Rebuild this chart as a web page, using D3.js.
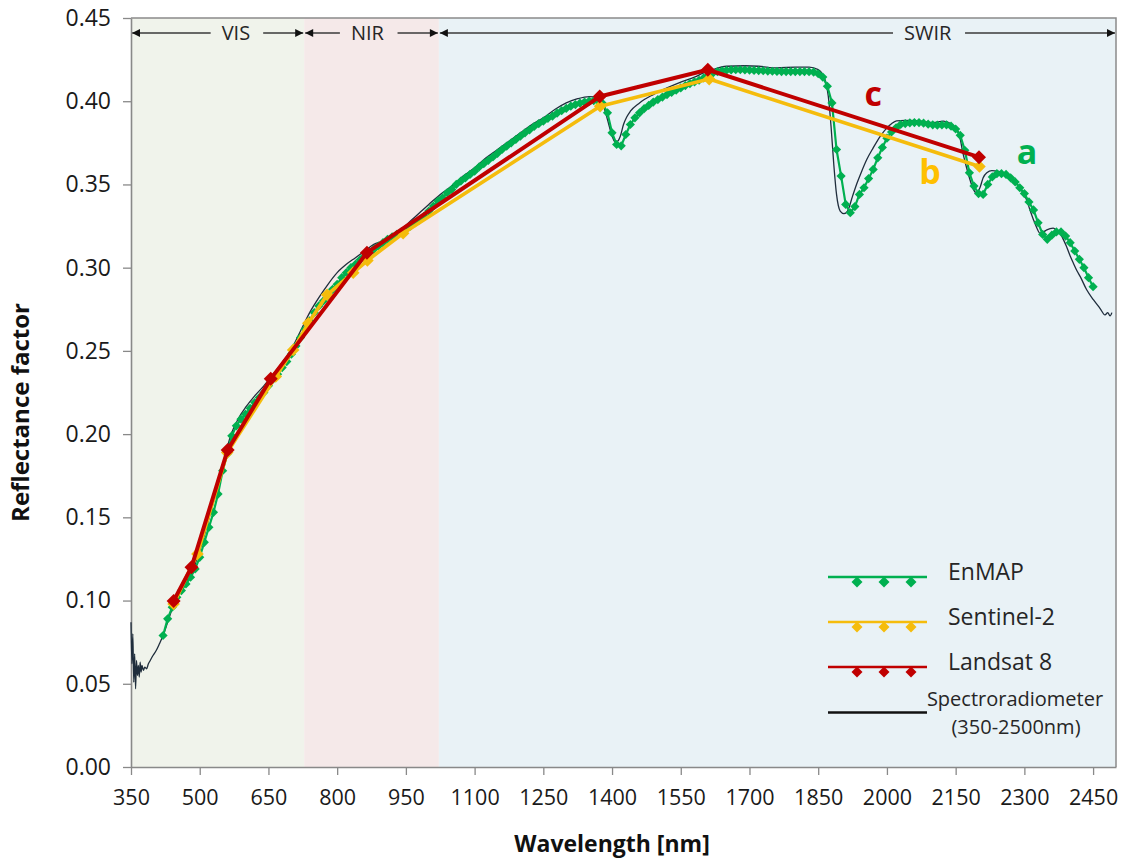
<!DOCTYPE html>
<html>
<head>
<meta charset="utf-8">
<script src="https://cdn.jsdelivr.net/npm/d3@7"></script>
<style>
  html, body { margin: 0; padding: 0; background: #ffffff; }
  svg { display: block; }
  text { font-family: "Open Sans", "Noto Sans", sans-serif; }
</style>
</head>
<body>
<svg id="chart" width="1121" height="859"></svg>
<script>
// ---------------- DATA ----------------
const xTicks = [350, 500, 650, 800, 950, 1100, 1250, 1400, 1550, 1700, 1850, 2000, 2150, 2300, 2450];
const yTicks = [0, 0.05, 0.10, 0.15, 0.20, 0.25, 0.30, 0.35, 0.40, 0.45];

const bandNames = ["VIS", "NIR", "SWIR"];
const bandStart = [350, 728, 1022];
const bandEnd   = [728, 1022, 2500];
const bandLabelAt = [579, 866, 2089];
const bandColors = ["#f0f3eb", "#f5e9e9", "#e9f2f6"];

// Spectroradiometer (350-2500 nm)
const spectroNm = [350,352,354,356,358,360,362,364,366,368,370,372,374,377,380,384,388,392,398,405,412,420,
  430,440,450,460,470,480,490,500,510,520,530,540,550,560,570,580,590,600,620,640,660,680,700,720,740,760,780,
  800,820,840,860,880,900,920,940,960,980,1000,1025,1050,1075,1100,1125,1150,1175,1200,1225,1250,1275,1300,
  1325,1350,1370,1380,1390,1398,1406,1412,1418,1425,1432,1440,1460,1490,1520,1550,1580,1600,1620,1650,1690,
  1720,1760,1800,1830,1850,1860,1866,1872,1878,1884,1890,1898,1906,1914,1925,1935,1945,1956,1970,1985,2000,
  2010,2021,2040,2065,2085,2101,2123,2140,2150,2158,2165,2172,2180,2188,2195,2203,2210,2218,2229,2242,2254,
  2268,2283,2295,2305,2313,2320,2327,2334,2342,2349,2363,2372,2378,2385,2392,2400,2407,2415,2422,2436,2451,
  2465,2476,2482,2487,2491];
const spectroVal = [0.087,0.062,0.080,0.051,0.068,0.047,0.064,0.055,0.061,0.054,0.063,0.057,0.061,0.058,0.060,
  0.059,0.062,0.064,0.067,0.070,0.074,0.079,
  0.087,0.095,0.102,0.107,0.111,0.116,0.122,0.130,0.139,0.149,0.159,0.168,0.180,0.192,0.201,0.207,0.212,0.216,
  0.223,0.229,0.236,0.243,0.251,0.262,0.273,0.282,0.290,
  0.297,0.302,0.306,0.310,0.314,0.316,0.319,0.323,0.328,0.333,0.338,0.344,0.349,0.355,0.360,0.366,0.371,0.376,
  0.381,0.386,0.390,0.395,0.399,
  0.4015,0.4028,0.402,0.398,0.389,0.381,0.3758,0.376,0.379,0.386,0.3905,0.394,0.399,0.404,0.408,0.4115,0.4145,
  0.417,0.419,0.421,0.4213,
  0.421,0.420,0.4205,0.4205,0.419,0.416,0.412,0.403,0.385,0.362,0.344,0.334,0.3325,0.334,0.343,0.351,0.358,
  0.365,0.372,0.3788,0.384,
  0.3865,0.3882,0.3885,0.3884,0.3875,0.3872,0.388,0.3865,0.384,0.380,0.370,0.362,0.354,0.3475,0.345,0.348,
  0.354,0.357,0.3583,0.358,0.357,
  0.355,0.3507,0.346,0.3407,0.334,0.3287,0.324,0.3207,0.3215,0.3227,0.3237,0.322,0.3207,0.317,0.3127,0.307,
  0.3027,0.298,0.2946,0.2867,0.2806,
  0.2756,0.2716,0.273,0.271,0.273];

// EnMAP
const enmapNm = [420,430,440,450,460,470,480,490,500,510,520,530,540,550,560,570,580,590,600,610,620,630,640,650,
  660,670,680,690,700,710,720,730,740,750,760,770,780,790,800,810,820,830,840,850,860,870,880,890,900,910,920,930,
  940,950,960,970,980,990,1000,1010,1020,1030,1040,1050,1060,1070,1080,1090,1100,1110,1120,1130,1140,1150,1160,
  1170,1180,1190,1200,1210,1220,1230,1240,1250,1260,1270,1280,1290,1300,1310,1320,1330,1340,1350,1360,1370,1380,
  1390,1400,1410,1420,1430,1440,1450,1460,1470,1480,1490,1500,1510,1520,1530,1540,1550,1560,1570,1580,1590,1600,
  1610,1620,1630,1640,1650,1660,1670,1680,1690,1700,1710,1720,1730,1740,1750,1760,1770,1780,1790,1800,1810,1820,
  1830,1840,1850,1860,1870,1880,1890,1900,1910,1920,1930,1940,1950,1960,1970,1980,1990,2000,2010,2020,2030,2040,
  2050,2060,2070,2080,2090,2100,2110,2120,2130,2140,2150,2160,2170,2180,2190,2200,2210,2220,2230,2240,2250,2260,
  2270,2280,2290,2300,2310,2320,2330,2340,2350,2360,2370,2380,2390,2400,2410,2420,2430,2440,2450];
const enmapVal = [0.079,0.089,0.096,0.102,0.106,0.110,0.114,0.119,0.126,0.135,0.144,0.153,0.164,0.178,0.188,0.199,
  0.205,0.209,0.212,0.2155,0.219,0.222,0.225,0.229,
  0.233,0.236,0.240,0.2436,0.248,0.253,0.258,0.263,0.268,0.273,0.277,0.280,0.283,0.287,0.290,0.294,0.297,0.300,
  0.302,0.3047,0.307,0.309,0.311,0.313,0.315,0.317,0.3185,0.320,
  0.3215,0.323,0.325,0.327,0.3287,0.331,0.334,0.337,0.340,0.342,0.345,0.347,0.350,0.352,0.354,0.356,0.358,0.3605,
  0.3625,0.3645,0.3665,0.3687,0.371,
  0.373,0.375,0.377,0.379,0.381,0.3828,0.3848,0.3865,0.388,0.3897,0.391,0.3928,0.3943,0.3957,0.397,0.398,0.3988,
  0.3995,0.400,0.4003,0.400,0.3985,
  0.393,0.381,0.374,0.3732,0.380,0.386,0.390,0.393,0.3955,0.3975,0.3995,0.401,0.4025,0.404,0.4053,0.4066,0.408,
  0.4094,0.4106,0.4116,0.4126,0.414,
  0.4155,0.4168,0.4178,0.4183,0.4186,0.4188,0.4189,0.4189,0.4188,0.4187,0.4185,0.4184,0.4183,0.4181,0.418,0.4179,
  0.4178,0.4178,0.4178,0.4178,0.4178,0.4178,
  0.4177,0.4175,0.4165,0.4145,0.409,0.399,0.371,0.355,0.338,0.333,0.3367,0.344,0.348,0.3535,0.359,0.366,0.3722,
  0.3778,0.3815,0.384,0.386,0.3866,
  0.387,0.3872,0.3872,0.3868,0.3862,0.3858,0.3856,0.3857,0.3858,0.385,0.3833,0.3795,0.3705,0.357,0.349,0.3445,
  0.344,0.350,0.3545,0.3565,0.3565,0.356,
  0.354,0.3515,0.348,0.3445,0.3395,0.3347,0.327,0.320,0.317,0.3195,0.3215,0.3215,0.319,0.315,0.310,0.305,0.300,
  0.294,0.2886];

// Sentinel-2
const s2Nm  = [443, 495, 560, 666, 704, 737, 778, 835, 866, 944, 1374, 1612, 2202];
const s2Val = [0.098, 0.128, 0.189, 0.2346, 0.2506, 0.2666, 0.2837, 0.297, 0.3043, 0.3207, 0.397, 0.4133, 0.3608];

// Landsat 8
const l8Nm  = [443, 482, 561, 655, 865, 1373, 1609, 2201];
const l8Val = [0.0998, 0.120, 0.1905, 0.2332, 0.309, 0.4028, 0.4189, 0.3664];

// curve annotations
const annoText = ["c", "b", "a"];
const annoNm   = [1970, 2094, 2306];
const annoVal  = [0.397, 0.350, 0.362];
const annoColor = ["#c00000", "#ffc000", "#00b050"];

const legendNames = ["EnMAP", "Sentinel-2", "Landsat 8"];

// ---------------- STYLE ----------------
const C_GREEN = "#00b050", C_YELLOW = "#f5bc0c", C_RED = "#c00000", C_SPEC = "#1f2d3c";
const AXIS = "#898989";

const svg = d3.select("#chart");
const X0 = 131, X1 = 1116, Y0 = 767, Y1 = 18;
const x = d3.scaleLinear().domain([350, 2500]).range([X0, X1]);
const y = d3.scaleLinear().domain([0, 0.45]).range([Y0, Y1]);

// bands
svg.append("g").selectAll("rect").data(bandNames).join("rect")
  .attr("x", (d, i) => x(bandStart[i]))
  .attr("width", (d, i) => x(bandEnd[i]) - x(bandStart[i]))
  .attr("y", Y1).attr("height", Y0 - Y1)
  .attr("fill", (d, i) => bandColors[i]);

// band arrows + labels
const defs = svg.append("defs");
defs.append("marker").attr("id", "ah").attr("viewBox", "0 0 10 10")
  .attr("refX", 10).attr("refY", 5).attr("markerWidth", 10).attr("markerHeight", 8)
  .attr("markerUnits", "userSpaceOnUse").attr("orient", "auto")
  .append("path").attr("d", "M0,0 L10,5 L0,10 Z").attr("fill", "#111");

const AY = 33;
const bandG = svg.append("g");
bandNames.forEach((name, i) => {
  const t = bandG.append("text").attr("x", x(bandLabelAt[i])).attr("y", AY + 7)
    .attr("text-anchor", "middle").attr("font-size", 20).attr("fill", "#262626").text(name);
  const bb = t.node().getBBox();
  const left = x(bandStart[i]) + 1, right = x(bandEnd[i]) - 1;
  bandG.append("line").attr("x1", bb.x - 11).attr("x2", left).attr("y1", AY).attr("y2", AY)
    .attr("stroke", "#3a3a3a").attr("stroke-width", 1.3).attr("marker-end", "url(#ah)");
  bandG.append("line").attr("x1", bb.x + bb.width + 13).attr("x2", right).attr("y1", AY).attr("y2", AY)
    .attr("stroke", "#3a3a3a").attr("stroke-width", 1.3).attr("marker-end", "url(#ah)");
});

// plot border (top/right)
svg.append("path").attr("d", `M${X0},${Y1}H${X1}V${Y0}`)
  .attr("fill", "none").attr("stroke", "#8a8a8a").attr("stroke-width", 1.5);

// axes
const xAxis = svg.append("g").attr("transform", `translate(0,${Y0})`)
  .call(d3.axisBottom(x).tickValues(xTicks).tickSize(8).tickSizeOuter(0).tickPadding(15).tickFormat(d3.format("d")));
const yAxis = svg.append("g").attr("transform", `translate(${X0},0)`)
  .call(d3.axisLeft(y).tickValues(yTicks).tickSize(8).tickSizeOuter(0).tickPadding(12).tickFormat(d3.format(".2f")));
[xAxis, yAxis].forEach(g => {
  g.select(".domain").attr("stroke", AXIS).attr("stroke-width", 1.6);
  g.selectAll(".tick line").attr("stroke", AXIS).attr("stroke-width", 1.3);
  g.selectAll(".tick text").attr("fill", "#1a1a1a").attr("font-family", "'Open Sans', sans-serif");
});
xAxis.selectAll(".tick text").attr("font-size", 21.5).attr("dy", "0.71em");
yAxis.selectAll(".tick text").attr("font-size", 23);

// axis titles
svg.append("text").attr("x", x(1400)).attr("y", 852).attr("text-anchor", "middle")
  .attr("font-size", 23).attr("font-weight", "bold").attr("fill", "#111").text("Wavelength [nm]");
svg.append("text").attr("transform", `translate(29,${(Y0 + Y1) / 2 + 20}) rotate(-90)`)
  .attr("text-anchor", "middle").attr("font-size", 24).attr("font-weight", "bold").attr("fill", "#111")
  .text("Reflectance factor");

// diamond path
const diamond = r => `M0,${-r}L${r},0L0,${r}L${-r},0Z`;
const line = d3.line().x(d => x(d[0])).y(d => y(d[1]));

// spectroradiometer
const spec = d3.zip(spectroNm, spectroVal);
svg.append("path").datum(spec).attr("d", line.curve(d3.curveMonotoneX))
  .attr("fill", "none").attr("stroke", C_SPEC).attr("stroke-width", 1.3);
line.curve(d3.curveLinear);

function series(nm, val, color, lw, r) {
  const data = d3.zip(nm, val);
  const g = svg.append("g");
  g.append("path").datum(data).attr("d", line).attr("fill", "none")
    .attr("stroke", color).attr("stroke-width", lw).attr("stroke-linejoin", "round");
  g.selectAll("path.m").data(data).join("path").attr("class", "m")
    .attr("transform", d => `translate(${x(d[0])},${y(d[1])})`)
    .attr("d", diamond(r)).attr("fill", color);
}
series(enmapNm, enmapVal, C_GREEN, 2.2, 4.6);
series(s2Nm, s2Val, C_YELLOW, 3.6, 6.3);
series(l8Nm, l8Val, C_RED, 4, 7);

// annotations
svg.append("g").selectAll("text").data(annoText).join("text")
  .attr("x", (d, i) => x(annoNm[i])).attr("y", (d, i) => y(annoVal[i]))
  .attr("text-anchor", "middle").attr("font-size", 34).attr("font-weight", "bold")
  .attr("fill", (d, i) => annoColor[i]).text(d => d);

// legend
const lg = svg.append("g");
const legColors = [C_GREEN, C_YELLOW, C_RED];
const legY = [577, 622, 667];
legendNames.forEach((n, i) => {
  lg.append("line").attr("x1", 828).attr("x2", 927).attr("y1", legY[i]).attr("y2", legY[i])
    .attr("stroke", legColors[i]).attr("stroke-width", 2.5);
  [857, 884, 911].forEach(mx => lg.append("path").attr("d", diamond(5.5))
    .attr("transform", `translate(${mx},${legY[i] + 5})`).attr("fill", legColors[i]));
  lg.append("text").attr("x", 948).attr("y", legY[i] + 3).attr("font-size", 23).attr("fill", "#262626").text(n);
});
lg.append("line").attr("x1", 828).attr("x2", 927).attr("y1", 712.5).attr("y2", 712.5)
  .attr("stroke", "#111").attr("stroke-width", 2.5);
lg.append("text").attr("x", 1015).attr("y", 706).attr("text-anchor", "middle").attr("font-size", 20)
  .attr("fill", "#262626").text("Spectroradiometer");
lg.append("text").attr("x", 1016).attr("y", 734).attr("text-anchor", "middle").attr("font-size", 20)
  .attr("fill", "#262626").text("(350-2500nm)");
</script>
</body>
</html>
